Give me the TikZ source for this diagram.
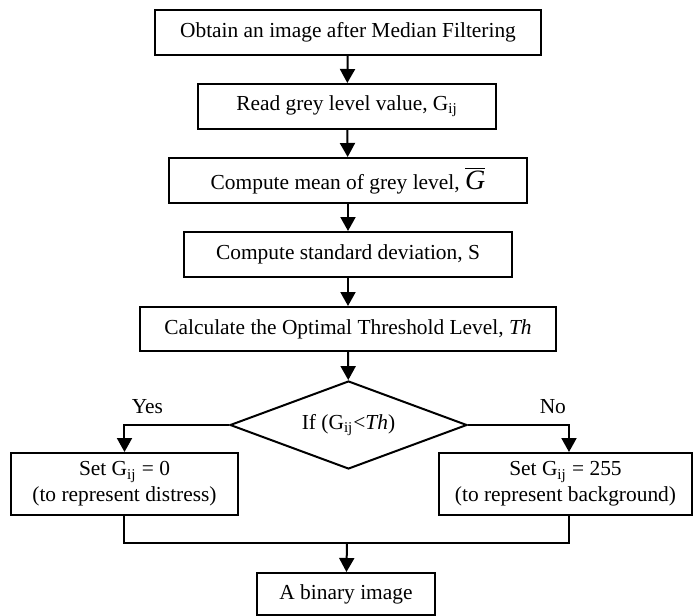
\documentclass[tikz,border=0pt]{standalone}
\usepackage{fontspec}
\setmainfont{Liberation Serif}
\usepackage{tikz}
\usetikzlibrary{shapes.geometric,arrows.meta}

\newcommand{\gij}{G\textsubscript{ij}}
\newcommand{\gbar}{{\fontsize{14}{14}\selectfont$\overline{\mbox{\textit{G}}}$}}

\tikzset{
    stepbox/.style={draw, line width=1pt, rectangle, align=center, inner sep=2pt},
    decision/.style={draw, line width=1pt, diamond, aspect=2.7, inner sep=0pt,
        minimum width=118.5pt, minimum height=44pt},
    flow/.style={line width=1pt, -{Triangle[width=7.5pt,length=7pt]}},
    joint/.style={line width=1pt},
    every node/.append style={font=\fontsize{10.7}{13}\selectfont}
}

\begin{document}
\begin{tikzpicture}[x=0.5pt, y=-0.5pt]
    \useasboundingbox (0,0) rectangle (693,616);

    % Main chain of steps
    \node[stepbox, minimum width=193pt, minimum height=22.5pt] (obtain) at (348,32.5) {Obtain an image after Median Filtering};
    \node[stepbox, minimum width=149pt, minimum height=22.5pt] (read) at (347,106.5) {Read grey level value, \gij};
    \node[stepbox, minimum width=179pt, minimum height=22.5pt] (mean) at (348,180.5) {Compute mean of grey level, \gbar};
    \node[stepbox, minimum width=164pt, minimum height=22.5pt] (stddev) at (348,254.5) {Compute standard deviation, S};
    \node[stepbox, minimum width=208pt, minimum height=22pt] (thresh) at (348,329) {Calculate the Optimal Threshold Level, \textit{Th}};

    % Decision
    \node[decision] (cond) at (348.5,425) {If (\gij{}<\textit{Th})};

    % The two branches
    \node[stepbox, minimum width=113.5pt, minimum height=31pt] (setzero) at (124.5,484) {Set \gij{} = 0\\(to represent distress)};
    \node[stepbox, minimum width=126.5pt, minimum height=31pt] (setfull) at (565.5,484) {Set \gij{} = 255\\(to represent background)};

    % Result
    \node[stepbox, minimum width=89pt, minimum height=21pt] (binary) at (346,594) {A binary image};
    \coordinate (merge) at (347,543);

    % Arrows
    \draw[flow] (obtain) -- (read);
    \draw[flow] (read) -- (mean);
    \draw[flow] (mean) -- (stddev);
    \draw[flow] (stddev) -- (thresh);
    \draw[flow] (thresh) -- (cond);
    \draw[flow] (cond.west) -| node[pos=0.39, above=2pt] {Yes} (setzero.north);
    \draw[flow] (cond.east) -| node[pos=0.42, above=2pt] {No} ([xshift=1.75pt]setfull.north);
    \draw[joint] (setzero.south) |- (merge) -| ([xshift=1.75pt]setfull.south);
    \draw[flow] (merge) -- (binary);
\end{tikzpicture}
\end{document}
